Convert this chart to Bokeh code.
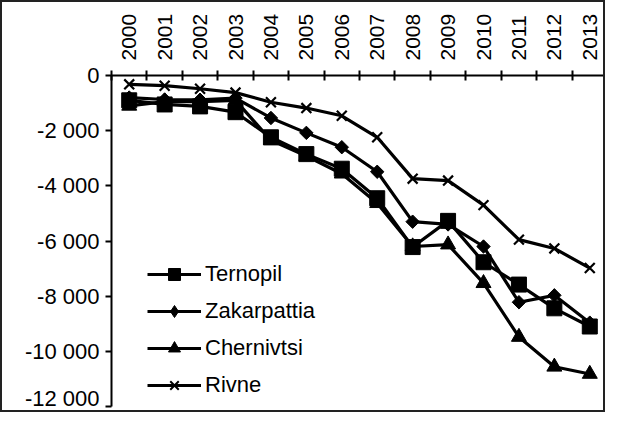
from bokeh.plotting import figure
from bokeh.models import Range1d, FixedTicker, CustomJSTickFormatter, Legend, LegendItem
from bokeh.embed import file_html
from bokeh.resources import INLINE
import math

years = [2000, 2001, 2002, 2003, 2004, 2005, 2006, 2007, 2008, 2009, 2010, 2011, 2012, 2013]
ternopil = [-900, -1050, -1120, -1330, -2240, -2850, -3380, -4450, -6220, -5270, -6770, -7580, -8440, -9100]
zakarpattia = [-800, -870, -880, -820, -1540, -2080, -2600, -3490, -5300, -5400, -6200, -8220, -7970, -8960]
chernivtsi = [-1100, -950, -950, -900, -2350, -2920, -3560, -4630, -6200, -6130, -7530, -9480, -10560, -10820]
rivne = [-320, -370, -480, -620, -970, -1180, -1460, -2240, -3740, -3810, -4700, -5950, -6270, -6980]
y_ticks = [0, -2000, -4000, -6000, -8000, -10000, -12000]

FONT = "Liberation Sans"
W, H = 605, 412  # plus 2px CSS border on each side -> 609 x 416

p = figure(width=W, height=H, output_backend="svg", toolbar_location=None,
           x_range=Range1d(years[0] - 0.5, years[-1] + 0.5),
           y_range=Range1d(y_ticks[-1], y_ticks[0]),
           x_axis_location="above",
           min_border_left=109, min_border_right=0, min_border_top=73, min_border_bottom=8)
p.styles = {"border": "2px solid #222"}
p.grid.visible = False
p.outline_line_color = None
p.background_fill_color = "white"
p.border_fill_color = "white"

xa = p.xaxis[0]
xa.ticker = FixedTicker(ticks=years, minor_ticks=[y - 0.5 for y in years] + [years[-1] + 0.5])
xa.major_tick_in = 0
xa.major_tick_out = 0
xa.minor_tick_in = 5
xa.minor_tick_out = 5
xa.minor_tick_line_width = 2
xa.minor_tick_line_color = "black"
xa.axis_line_width = 2
xa.axis_line_color = "black"
xa.major_label_orientation = "vertical"
xa.major_label_text_font = FONT
xa.major_label_text_font_size = "21px"
xa.major_label_text_color = "black"
xa.major_label_standoff = 10
xa.formatter = CustomJSTickFormatter(code="return tick.toFixed(0);")

ya = p.yaxis[0]
ya.ticker = FixedTicker(ticks=y_ticks, minor_ticks=[])
ya.major_tick_in = 0
ya.major_tick_out = 6
ya.major_tick_line_width = 2
ya.axis_line_width = 2
ya.axis_line_color = "black"
ya.major_label_text_font = FONT
ya.major_label_text_font_size = "22px"
ya.major_label_text_color = "black"
ya.major_label_standoff = 6
ya.formatter = CustomJSTickFormatter(code="return tick.toFixed(0).replace(/\\B(?=(\\d{3})+(?!\\d))/g, ' ');")

series = [
    ("Ternopil", ternopil, "square", 15, 0, 12),
    ("Zakarpattia", zakarpattia, "square", 9.5, math.pi / 4, 14),
    ("Chernivtsi", chernivtsi, "triangle", 15, 0, 13),
    ("Rivne", rivne, "x", 14, 0, 12),
]
items = []
for name, vals, marker, size, ang, lsize in series:
    ln = p.line(years, vals, line_color="black", line_width=3.2)
    if marker == "x":
        p.scatter(years, vals, marker="x", size=size, line_color="black", line_width=2.2)
        leg_mk = p.scatter(years, vals, marker="x", size=lsize, line_color="black",
                           line_width=2, visible=False)
    else:
        p.scatter(years, vals, marker=marker, size=size, angle=ang,
                  fill_color="black", line_color="black", line_width=1)
        lmarker = "diamond" if ang else marker
        leg_mk = p.scatter(years, vals, marker=lmarker, size=lsize,
                           fill_color="black", line_color="black", line_width=1, visible=False)
    items.append(LegendItem(label=name, renderers=[ln, leg_mk]))

legend = Legend(items=items, location=(36, 6), orientation="vertical")
legend.background_fill_alpha = 0
legend.border_line_color = None
legend.padding = 0
legend.margin = 0
legend.spacing = 7
legend.glyph_width = 54
legend.glyph_height = 30
legend.label_height = 30
legend.label_standoff = 4
legend.label_text_font = FONT
legend.label_text_font_size = "22px"
legend.label_text_color = "black"
p.add_layout(legend, "center")

open("out.html", "w").write(file_html(p, INLINE))
